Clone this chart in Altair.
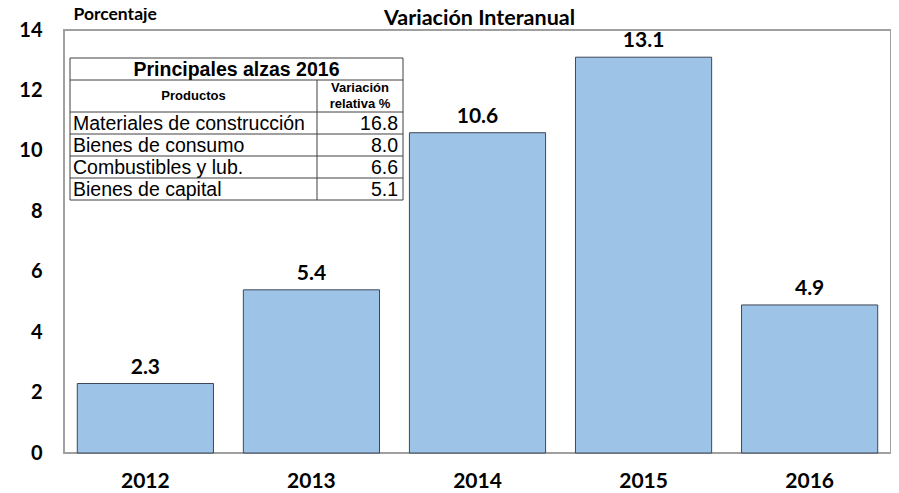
import altair as alt
import pandas as pd

# ---- data ----
years = ["2012", "2013", "2014", "2015", "2016"]
values = [2.3, 5.4, 10.6, 13.1, 4.9]

chart_title = "Variación Interanual"
table_title = "Principales alzas 2016"
col_products = "Productos"
col_change = ["Variación", "relativa %"]
products = ["Materiales de construcción", "Bienes de consumo", "Combustibles y lub.", "Bienes de capital"]
product_changes = [16.8, 8.0, 6.6, 5.1]

# ---- layout (pixels, relative to plot origin) ----
W, H = 827, 423
T_LEFT, T_RIGHT, T_DIV = 6, 339, 253
T_TOP, T_TITLE_B, T_HEAD_B, ROW_H = 28, 50, 82, 22
CALIBRI = "Lato"
ARIAL = "Liberation Sans"

bars_df = pd.DataFrame({"year": years, "value": values})

x_enc = alt.X(
    "year:N", sort=years,
    scale=alt.Scale(paddingInner=0.18, paddingOuter=0.08),
    axis=alt.Axis(title=None, labelAngle=0, ticks=False, domain=False,
                  labelFont=CALIBRI, labelFontWeight="bold", labelFontSize=21,
                  labelColor="#000000", labelPadding=17),
)
y_enc = alt.Y(
    "value:Q",
    scale=alt.Scale(domain=[0, 14], nice=False),
    axis=alt.Axis(title="Porcentaje", titleAngle=0, titleAlign="left", titleBaseline="middle",
                  titleX=9, titleY=-16, titleFont=CALIBRI, titleFontWeight="bold",
                  titleFontSize=17.5, titleColor="#000000",
                  values=list(range(0, 15, 2)), ticks=False, domain=False, grid=False,
                  labelFont=CALIBRI, labelFontWeight="bold", labelFontSize=20,
                  labelColor="#000000", labelPadding=22),
)

bars = alt.Chart(bars_df).mark_bar(
    fill="#9DC3E6", stroke="#3F4756", strokeWidth=1
).encode(x=x_enc, y=y_enc)

bar_labels = alt.Chart(bars_df).mark_text(
    baseline="bottom", dy=-6, font=CALIBRI, fontWeight="bold", fontSize=21, color="#000000"
).encode(
    x=alt.X("year:N", sort=years),
    y=alt.Y("value:Q"),
    text=alt.Text("value:Q", format=".1f"),
)

main = alt.layer(bars, bar_labels)

# ---- chart title (annotation above plot) ----
ct_df = pd.DataFrame({"t": [chart_title]})
ct = alt.Chart(ct_df).mark_text(
    font=CALIBRI, fontWeight="bold", fontSize=21.5, color="#000000", baseline="middle"
).encode(x=alt.value(W / 2 + 2), y=alt.value(-11), text="t:N")

# ---- inset table ----
n = len(products)
t_bottom = T_HEAD_B + n * ROW_H
box_df = pd.DataFrame({"x": [T_LEFT], "x2": [T_RIGHT], "y": [T_TOP], "y2": [t_bottom]})
box = alt.Chart(box_df).mark_rect(fill="white", stroke="#404040", strokeWidth=1).encode(
    x=alt.X("x:Q", scale=None), x2="x2", y=alt.Y("y:Q", scale=None), y2="y2"
)

h_lines = [T_TITLE_B, T_HEAD_B] + [T_HEAD_B + ROW_H * (i + 1) for i in range(n - 1)]
hl_df = pd.DataFrame({"x": [T_LEFT] * len(h_lines), "x2": [T_RIGHT] * len(h_lines), "y": h_lines})
hrules = alt.Chart(hl_df).mark_rule(color="#404040", strokeWidth=1).encode(
    x=alt.X("x:Q", scale=None), x2="x2", y=alt.Y("y:Q", scale=None)
)
vl_df = pd.DataFrame({"x": [T_DIV], "y": [T_TITLE_B], "y2": [t_bottom]})
vrule = alt.Chart(vl_df).mark_rule(color="#404040", strokeWidth=1).encode(
    x=alt.X("x:Q", scale=None), y=alt.Y("y:Q", scale=None), y2="y2"
)

title_df = pd.DataFrame({"t": [table_title], "x": [(T_LEFT + T_RIGHT) / 2], "y": [(T_TOP + T_TITLE_B) / 2 + 1]})
t_title = alt.Chart(title_df).mark_text(
    font=ARIAL, fontWeight="bold", fontSize=19.5, color="#000000", baseline="middle"
).encode(x=alt.X("x:Q", scale=None), y=alt.Y("y:Q", scale=None), text="t:N")

head_df = pd.DataFrame({
    "t": [col_products, col_change[0], col_change[1]],
    "x": [(T_LEFT + T_DIV) / 2, (T_DIV + T_RIGHT) / 2, (T_DIV + T_RIGHT) / 2],
    "y": [(T_TITLE_B + T_HEAD_B) / 2, T_TITLE_B + 8, T_TITLE_B + 24],
})
t_head = alt.Chart(head_df).mark_text(
    font=ARIAL, fontWeight="bold", fontSize=13, color="#000000", baseline="middle"
).encode(x=alt.X("x:Q", scale=None), y=alt.Y("y:Q", scale=None), text="t:N")

rows_df = pd.DataFrame({
    "p": products,
    "v": product_changes,
    "y": [T_HEAD_B + ROW_H * i + ROW_H / 2 + 1 for i in range(n)],
    "xl": [T_LEFT + 3] * n,
    "xr": [T_RIGHT - 5] * n,
})
t_names = alt.Chart(rows_df).mark_text(
    font=ARIAL, fontSize=19.5, color="#000000", align="left", baseline="middle"
).encode(x=alt.X("xl:Q", scale=None), y=alt.Y("y:Q", scale=None), text="p:N")
t_vals = alt.Chart(rows_df).mark_text(
    font=ARIAL, fontSize=19.5, color="#000000", align="right", baseline="middle"
).encode(x=alt.X("xr:Q", scale=None), y=alt.Y("y:Q", scale=None), text=alt.Text("v:Q", format=".1f"))

table = alt.layer(ct, box, hrules, vrule, t_title, t_head, t_names, t_vals)

chart = alt.layer(main, table).resolve_scale(
    x="independent", y="independent"
).properties(
    width=W, height=H,
    background="white",
    autosize=alt.AutoSizeParams(type="none"),
    padding={"left": 56, "top": 22, "right": 0, "bottom": 40},
).configure_view(
    stroke="#A0A0A0", strokeWidth=2
)

chart.save("out.html", embed_options={"renderer": "svg", "actions": False})
